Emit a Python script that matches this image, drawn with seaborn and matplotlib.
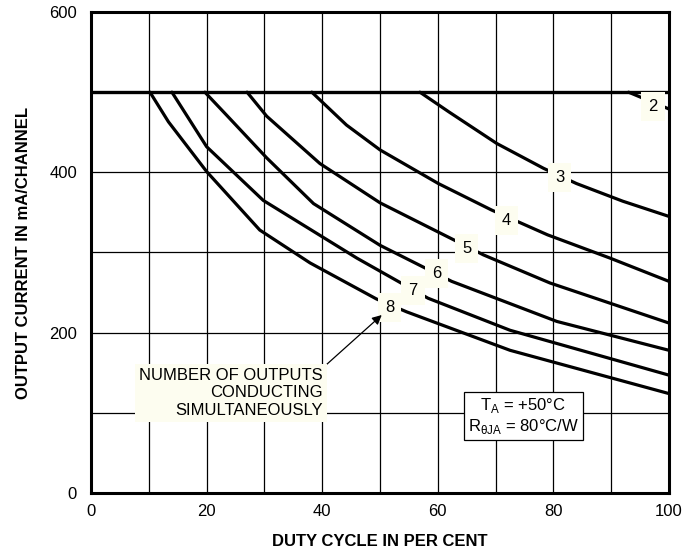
import matplotlib
matplotlib.use('Agg')
import matplotlib.pyplot as plt
import pandas as pd
import seaborn as sns

# duty cycle (%) / output current (mA) points for each number of outputs
c2_x = [93, 97, 100]
c2_y = [500, 488, 479]
c3_x = [56.9, 62, 70.2, 78.3, 84, 92, 100]
c3_y = [500, 475, 436, 405, 386, 364, 345]
c4_x = [38.2, 44.2, 50, 60.1, 69.3, 79, 89.8, 100]
c4_y = [500, 459, 428, 386, 353, 322, 293, 264]
c5_x = [27, 30.4, 39.6, 50, 62.7, 67.9, 79.4, 100]
c5_y = [500, 470, 411, 362, 316, 297, 262, 212]
c6_x = [19.7, 23.5, 30.4, 38.5, 50, 62.4, 80.6, 100]
c6_y = [500, 471, 418, 361, 309, 264, 214, 178]
c7_x = [14, 20, 29.8, 46, 58.3, 72.5, 100]
c7_y = [500, 432, 365, 293, 243, 203, 147]
c8_x = [10.2, 13.4, 20, 29.2, 37.9, 49.4, 54.6, 72.5, 100]
c8_y = [500, 463, 401, 328, 287, 242, 226, 178, 124]
limit_ma = 500

curve_names = ['2', '3', '4', '5', '6', '7', '8']
curves_x = [c2_x, c3_x, c4_x, c5_x, c6_x, c7_x, c8_x]
curves_y = [c2_y, c3_y, c4_y, c5_y, c6_y, c7_y, c8_y]
label_x = [97.2, 81.1, 71.9, 65.0, 59.8, 55.7, 51.7]
label_y = [482, 393, 340, 305, 274, 253, 231]

x_ticks = [0, 20, 40, 60, 80, 100]
y_ticks = [0, 200, 400, 600]

sns.set_style('white')
plt.rcParams['font.family'] = ['Liberation Sans', 'DejaVu Sans']
plt.rcParams['mathtext.fontset'] = 'custom'
plt.rcParams['mathtext.rm'] = 'Liberation Sans'
plt.rcParams['text.color'] = 'black'
plt.rcParams['axes.labelcolor'] = 'black'
plt.rcParams['xtick.color'] = 'black'
plt.rcParams['ytick.color'] = 'black'

fig = plt.figure(figsize=(6.98, 5.54), dpi=100)
ax = fig.add_axes([91 / 698, 61 / 554, 578 / 698, 481 / 554])

df = pd.concat([pd.DataFrame({'duty': xs, 'current': ys, 'n': name})
                for name, xs, ys in zip(curve_names, curves_x, curves_y)])
sns.lineplot(data=df, x='duty', y='current', units='n', estimator=None,
             sort=False, color='black', lw=2.3, ax=ax, zorder=3)
ax.axhline(limit_ma, color='black', lw=2.4, zorder=3)

cream = '#fdfdf0'
for name, lx, ly in zip(curve_names, label_x, label_y):
    ax.text(lx, ly, name, ha='center', va='center', fontsize=12, zorder=5,
            bbox=dict(boxstyle='square,pad=0.42', fc=cream, ec='none'))

ax.annotate('NUMBER OF OUTPUTS\nCONDUCTING\nSIMULTANEOUSLY',
            xy=(50.3, 222), xytext=(40.1, 125), ha='right', va='center',
            fontsize=12, linespacing=1.2, zorder=5,
            bbox=dict(boxstyle='square,pad=0.25', fc=cream, ec='none'),
            arrowprops=dict(arrowstyle='-|>', color='black', lw=0.9,
                            mutation_scale=14, shrinkA=0, shrinkB=0,
                            relpos=(1, 1)))

ax.text(74.8, 96, 'T$_\\mathrm{A}$ = +50°C\nR$_\\mathrm{θJA}$ = 80°C/W',
        ha='center', va='center', fontsize=12, linespacing=1.15, zorder=5,
        bbox=dict(boxstyle='square,pad=0.25', fc='white', ec='black', lw=0.9))

ax.set_xlim(0, 100)
ax.set_ylim(0, 600)
ax.set_xticks(range(0, 101, 10), minor=True)
ax.set_yticks(range(0, 601, 100), minor=True)
ax.set_xticks(x_ticks)
ax.set_yticks(y_ticks)
ax.grid(True, which='both', color='black', lw=0.9)
ax.tick_params(which='both', length=0, labelsize=12)
ax.tick_params(axis='x', pad=8)
ax.tick_params(axis='y', pad=10)
for s in ax.spines.values():
    s.set_color('black')
    s.set_linewidth(2.2)
    s.set_zorder(6)

ax.set_xlabel('DUTY CYCLE IN PER CENT', fontsize=12, fontweight='bold', labelpad=11)
ax.set_ylabel('OUTPUT CURRENT IN mA/CHANNEL', fontsize=12, fontweight='bold', labelpad=13)

fig.savefig('out.png', dpi=100)
